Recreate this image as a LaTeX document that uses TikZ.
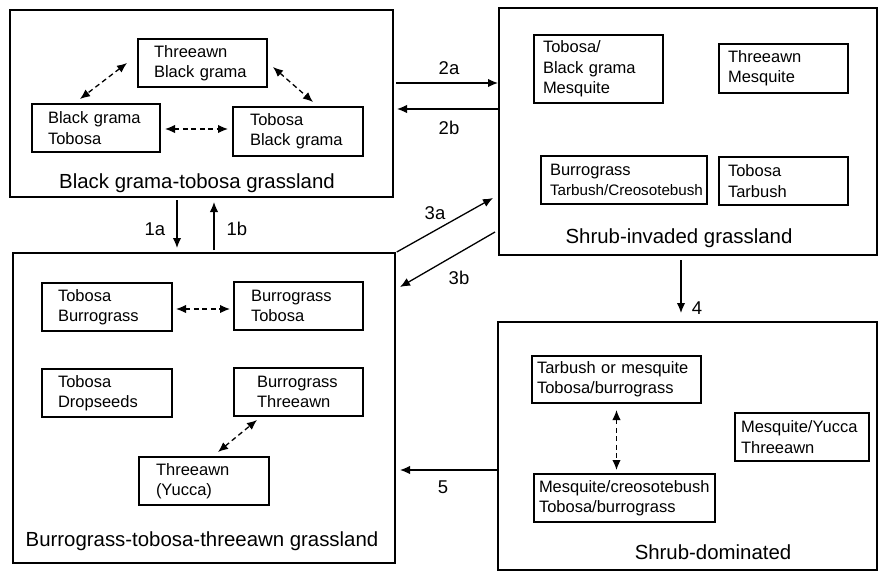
\documentclass[tikz,border=0pt]{standalone}
\usepackage{fontspec}
\setmainfont{Liberation Sans}
\usepackage{tikz}
\usetikzlibrary{arrows,arrows.meta}
\tikzset{>={Latex[length=10pt,width=8.5pt]}}
\def\ux{1pt}
\def\uy{-1pt}
\tikzstyle{bigbox}=[draw, line width=2.8pt, inner sep=0pt, outer sep=0pt]
\tikzstyle{spec}=[draw, line width=1.1pt, align=left, inner ysep=0pt, outer sep=0pt, font=\fontsize{16.5}{20.3}\selectfont]
\tikzstyle{title}=[anchor=base, font=\fontsize{20.4}{24}\selectfont]
\tikzstyle{trans}=[->, line width=1.3pt]
\tikzstyle{swap}=[<->, line width=1.3pt, dash pattern=on 5pt off 3.5pt]
\tikzstyle{num}=[font=\fontsize{18.5}{22}\selectfont]

\begin{document}
\begin{tikzpicture}[x=\ux,y=\uy]
		\useasboundingbox (0,0) rectangle (879,573);
		% states
		\node[bigbox, minimum width=383pt, minimum height=187pt] (A) at (201.5,103.5) {};
		\node[bigbox, minimum width=378pt, minimum height=247pt] (B) at (688,131.5) {};
		\node[bigbox, minimum width=382pt, minimum height=310pt] (C) at (204,408) {};
		\node[bigbox, minimum width=379pt, minimum height=248pt] (D) at (687.5,446) {};
		\node[title] (Atitle) at (197,188) {Black grama-tobosa grassland};
		\node[title] (Btitle) at (679,243) {Shrub-invaded grassland};
		\node[title] (Ctitle) at (202,546) {Burrograss-tobosa-threeawn grassland};
		\node[title] (Dtitle) at (713,559) {Shrub-dominated};

		% communities
		\node[spec, text width=97pt, inner xsep=16pt, minimum height=48pt] (A1) at (202.5,63) {Threeawn\\Black grama};
		\node[spec, text width=96pt, inner xsep=16pt, minimum height=48pt] (A2) at (96,128) {Black grama\\Tobosa};
		\node[spec, text width=96pt, inner xsep=17pt, minimum height=49pt] (A3) at (298,131.5) {Tobosa\\Black grama};

		\node[spec, text width=111pt, inner xsep=9pt, minimum height=68pt] (B1) at (598.5,69) {Tobosa/\\Black grama\\Mesquite};
		\node[spec, text width=111pt, inner xsep=9pt, minimum height=49pt] (B2) at (783.5,68.5) {Threeawn\\Mesquite};
		\node[spec, text width=148pt, inner xsep=9pt, minimum height=48pt] (B3) at (624,180) {Burrograss\\{\fontsize{15.2}{18}\selectfont Tarbush/Creosotebush}};
		\node[spec, text width=111pt, inner xsep=9pt, minimum height=48pt] (B4) at (783.5,181) {Tobosa\\Tarbush};

		\node[spec, text width=98pt, inner xsep=16pt, minimum height=48pt] (C1) at (107,307) {Tobosa\\Burrograss};
		\node[spec, text width=95pt, inner xsep=17pt, minimum height=48pt] (C2) at (298.5,306) {Burrograss\\Tobosa};
		\node[spec, text width=98pt, inner xsep=16pt, minimum height=48pt] (C3) at (107,393) {Tobosa\\Dropseeds};
		\node[spec, text width=83pt, inner xsep=23pt, minimum height=48pt] (C4) at (298.5,392) {Burrograss\\Threeawn};
		\node[spec, text width=96pt, inner xsep=17pt, minimum height=48pt] (C5) at (204,481) {Threeawn\\(Yucca)};

		\node[spec, text width=159pt, inner xsep=5pt, minimum height=47pt] (D1) at (616.5,379.5) {Tarbush or mesquite\\Tobosa/burrograss};
		\node[spec, text width=122pt, inner xsep=6pt, minimum height=48pt] (D2) at (802,437) {Mesquite/Yucca\\Threeawn};
		\node[spec, text width=171pt, inner xsep=5pt, minimum height=48pt] (D3) at (624.5,498) {Mesquite/creosotebush\\Tobosa/burrograss};

		% shifts inside a state
		\draw[swap] ([xshift=-11pt]A1.west) -- ([xshift=-16pt,yshift=5pt]A2.north);
		\draw[swap] ([xshift=6pt,yshift=-4pt]A1.east) -- ([xshift=15pt,yshift=5pt]A3.north);
		\draw[swap] ([xshift=5pt,yshift=-1pt]A2.east) -- ([xshift=-5pt,yshift=-1pt]A2.east -| A3.west);
		\draw[swap] ([xshift=4pt,yshift=-2pt]C1.east) -- ([xshift=-4pt,yshift=-2pt]C1.east -| C2.west);
		\draw[swap] ([xshift=14pt,yshift=5pt]C5.north) -- ([xshift=23pt,yshift=-4pt]C4.south west);
		\draw[swap] ([yshift=-7pt]D1.south) -- ([yshift=4pt]D1.south |- D3.north);

		% transitions
		\draw[trans, shorten <=3pt, shorten >=5pt] ([xshift=-24.5pt]A.south) -- ([xshift=-24.5pt]A.south |- C.north)
			node[num, midway, xshift=-22pt, yshift=-4pt] (t1a) {1a};
		\draw[trans, shorten <=3pt, shorten >=5pt] ([xshift=12.5pt]A.south |- C.north) -- ([xshift=12.5pt]A.south)
			node[num, midway, xshift=23pt, yshift=-4pt] (t1b) {1b};
		\draw[trans, shorten <=3pt, shorten >=1pt] ([yshift=20.5pt]A.east) -- ([yshift=20.5pt]A.east -| B.west)
			node[num, midway, xshift=3pt, yshift=15pt] (t2a) {2a};
		\draw[trans, shorten >=4pt] ([yshift=-5.5pt]A.east -| B.west) -- ([yshift=-5.5pt]A.east)
			node[num, midway, xshift=3pt, yshift=-19pt] (t2b) {2b};
		\draw[trans, shorten <=2pt] (C.north east) -- ([xshift=-6pt,yshift=57pt]B.south west)
			node[num, midway, xshift=-9pt, yshift=12.5pt] (t3a) {3a};
		\draw[trans] ([xshift=-4pt,yshift=23pt]B.south west) -- ([xshift=5pt,yshift=-34pt]C.north east)
			node[num, midway, xshift=11.5pt, yshift=-18.5pt] (t3b) {3b};
		\draw[trans, shorten <=5pt, shorten >=9pt] ([xshift=-7pt]B.south) -- ([xshift=-7pt]B.south |- D.north)
			node[num, midway, xshift=16pt, yshift=-19.5pt] (t4) {4};
		\draw[trans, shorten <=1pt, shorten >=5pt] ([yshift=-24pt]D.west) -- ([yshift=-24pt]D.west -| C.east)
			node[num, midway, xshift=-3.5pt, yshift=-17pt] (t5) {5};
\end{tikzpicture}
\end{document}
